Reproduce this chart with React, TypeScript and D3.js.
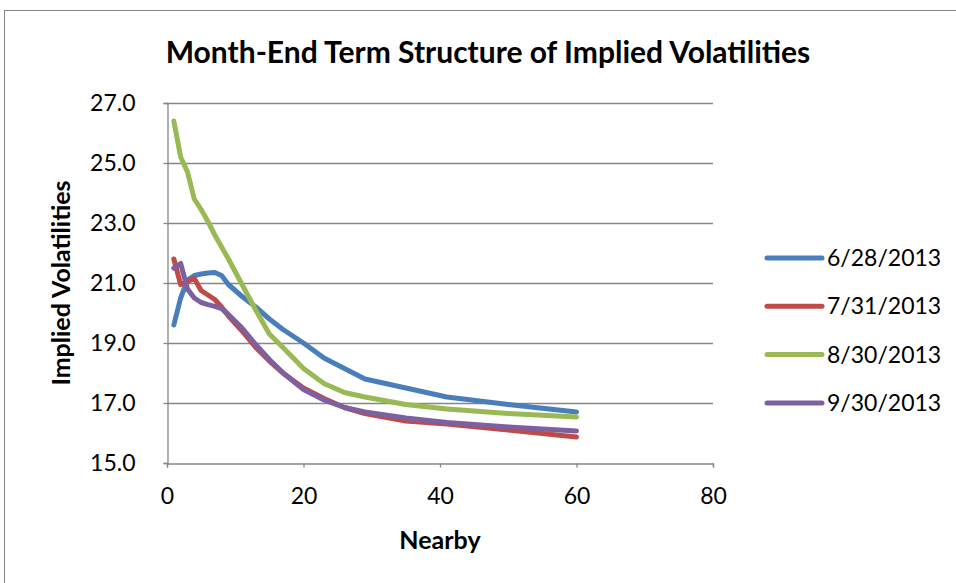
import * as d3 from 'd3';
import React, { useRef, useEffect } from 'react';

const nearby = [1, 2, 3, 4, 5, 6, 7, 8, 9, 11, 13, 15, 17, 20, 23, 26, 29, 35, 41, 50, 60];
const vol0628 = [19.6, 20.5, 21.1, 21.25, 21.3, 21.33, 21.35, 21.25, 20.95, 20.55, 20.2, 19.8, 19.45, 19.0, 18.5, 18.15, 17.8, 17.5, 17.2, 16.95, 16.7];
const vol0731 = [21.8, 20.95, 21.05, 21.15, 20.75, 20.6, 20.45, 20.2, 19.9, 19.4, 18.85, 18.4, 18.0, 17.5, 17.15, 16.85, 16.65, 16.4, 16.3, 16.1, 15.87];
const vol0830 = [26.4, 25.2, 24.7, 23.8, 23.45, 23.05, 22.6, 22.2, 21.8, 20.95, 20.1, 19.3, 18.85, 18.15, 17.65, 17.35, 17.2, 16.95, 16.8, 16.65, 16.53];
const vol0930 = [21.5, 21.65, 20.8, 20.5, 20.35, 20.28, 20.22, 20.15, 19.95, 19.5, 18.95, 18.45, 18.0, 17.45, 17.1, 16.85, 16.7, 16.5, 16.35, 16.2, 16.07];

const seriesNames = ['6/28/2013', '7/31/2013', '8/30/2013', '9/30/2013'];
const seriesColors = ['#4A7EBB', '#BE4B48', '#98B954', '#7D60A0'];
const yTicks = [15, 17, 19, 21, 23, 25, 27];
const xTicks = [0, 20, 40, 60, 80];

function VolChart() {
    const ref = useRef(null);

    useEffect(() => {
        let svg = d3.select(ref.current);
        svg.selectAll('*').remove();

        let font = 'Lato, "Open Sans", sans-serif';
        let left = 167, right = 713, top = 103, bottom = 463;
        let x = d3.scaleLinear().domain([0, 80]).range([left, right]);
        let y = d3.scaleLinear().domain([15, 27]).range([bottom, top]);

        // chart border
        svg.append('rect')
            .attr('x', 4.5).attr('y', 10.5)
            .attr('width', 1000).attr('height', 700)
            .attr('fill', 'white')
            .attr('stroke', '#868686')
            .attr('stroke-width', 1);

        svg.append('text')
            .attr('x', 488).attr('y', 63)
            .attr('text-anchor', 'middle')
            .attr('font-family', font)
            .attr('font-weight', 'bold')
            .attr('font-size', 30)
            .text('Month-End Term Structure of Implied Volatilities');

        // gridlines
        svg.append('g').selectAll('line')
            .data(yTicks.filter(d => d > 15))
            .enter().append('line')
            .attr('x1', left).attr('x2', right)
            .attr('y1', d => Math.round(y(d)) + 0.5)
            .attr('y2', d => Math.round(y(d)) + 0.5)
            .attr('stroke', '#868686')
            .attr('stroke-width', 1.3);

        // axes
        let yAxis = svg.append('g')
            .attr('transform', 'translate(' + (left + 0.5) + ',0)')
            .call(d3.axisLeft(y).tickValues(yTicks).tickFormat(d3.format('.1f')).tickSize(4).tickPadding(28));
        let xAxis = svg.append('g')
            .attr('transform', 'translate(0,' + (bottom + 0.5) + ')')
            .call(d3.axisBottom(x).tickValues(xTicks).tickSize(4).tickPadding(20));
        [yAxis, xAxis].forEach(a => {
            a.select('.domain').attr('stroke', '#868686').attr('stroke-width', 1.3);
            a.selectAll('.tick line').attr('stroke', '#868686').attr('stroke-width', 1.3);
            a.selectAll('.tick text')
                .attr('font-family', font)
                .attr('font-size', 23)
                .attr('fill', 'black');
        });

        svg.append('text')
            .attr('x', 440).attr('y', 549)
            .attr('text-anchor', 'middle')
            .attr('font-family', font)
            .attr('font-weight', 'bold')
            .attr('font-size', 25)
            .text('Nearby');

        svg.append('text')
            .attr('transform', 'translate(70,283) rotate(-90)')
            .attr('text-anchor', 'middle')
            .attr('font-family', font)
            .attr('font-weight', 'bold')
            .attr('font-size', 25)
            .text('Implied Volatilities');

        let allSeries = [vol0628, vol0731, vol0830, vol0930];
        let line = d3.line()
            .x((d, i) => x(nearby[i]))
            .y(d => y(d));

        svg.append('g').selectAll('path')
            .data(allSeries)
            .enter().append('path')
            .attr('d', d => line(d))
            .attr('fill', 'none')
            .attr('stroke', (d, i) => seriesColors[i])
            .attr('stroke-width', 5)
            .attr('stroke-linejoin', 'round')
            .attr('stroke-linecap', 'round');

        // legend
        let legend = svg.append('g').selectAll('g')
            .data(seriesNames)
            .enter().append('g')
            .attr('transform', (d, i) => 'translate(767,' + (258 + i * 48.3) + ')');
        legend.append('line')
            .attr('x1', 0).attr('x2', 55)
            .attr('stroke', (d, i) => seriesColors[i])
            .attr('stroke-width', 5)
            .attr('stroke-linecap', 'round');
        legend.append('text')
            .attr('x', 60).attr('y', 8)
            .attr('font-family', font)
            .attr('font-size', 23)
            .attr('fill', 'black')
            .text(d => d);
    }, []);

    return <svg ref={ref} width={956} height={583} style={{ position: 'absolute', left: 0, top: 0, display: 'block' }} />;
}

export default function App() {
    return <VolChart />;
}
